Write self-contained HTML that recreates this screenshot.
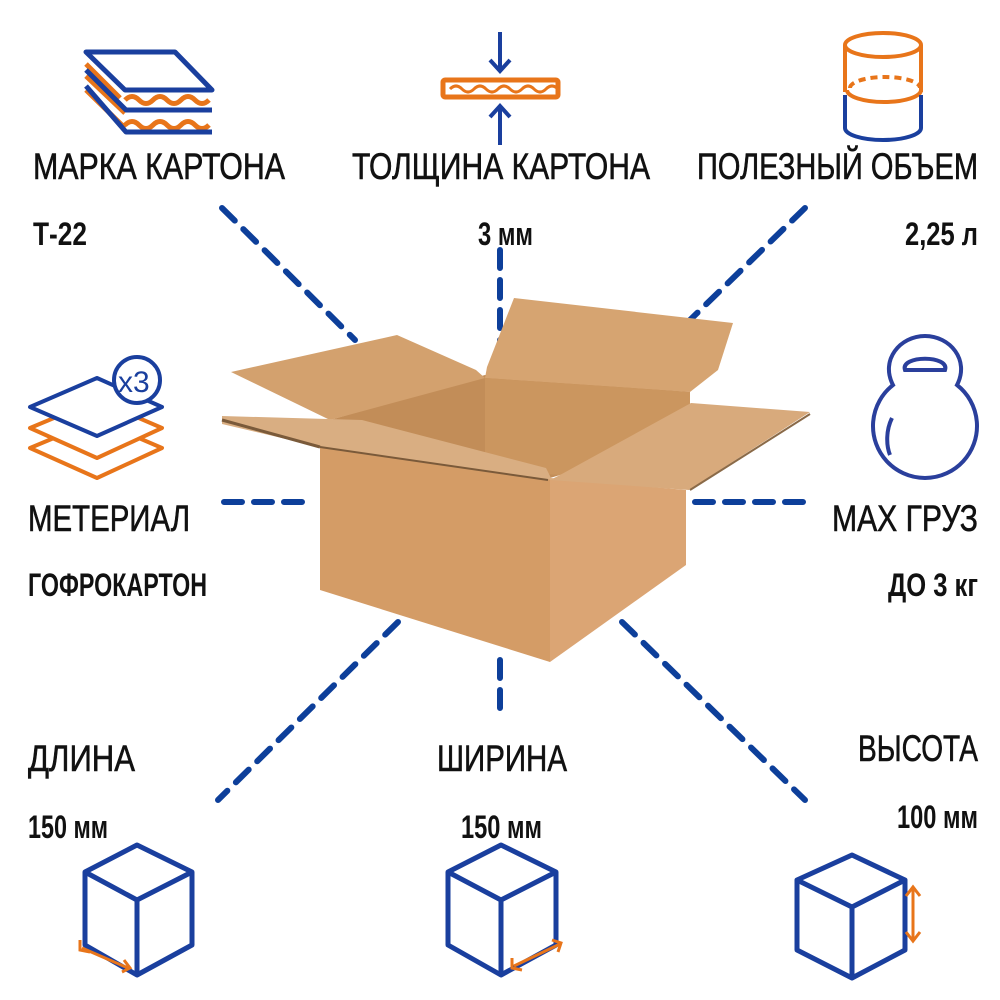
<!DOCTYPE html>
<html><head><meta charset="utf-8"><style>
html,body{margin:0;padding:0;background:#fff;}
svg{display:block}
.t{font-family:"Liberation Sans",sans-serif;font-size:37px;fill:#111;stroke:#111;stroke-width:0.6;}
.b{font-family:"Liberation Sans",sans-serif;font-size:32px;font-weight:bold;fill:#111;}
</style></head><body>
<svg width="1000" height="1000" viewBox="0 0 1000 1000" xmlns="http://www.w3.org/2000/svg">
<g stroke="#0d3f9a" stroke-width="6" stroke-dasharray="18 12" stroke-linecap="round" fill="none">
<line x1="222" y1="208" x2="355" y2="340"/>
<line x1="500" y1="250" x2="500" y2="345"/>
<line x1="805" y1="208" x2="690" y2="320"/>
<line x1="224" y1="502" x2="305" y2="502"/>
<line x1="695" y1="502" x2="805" y2="502"/>
<line x1="398" y1="622" x2="218" y2="800"/>
<line x1="500" y1="660" x2="500" y2="715"/>
<line x1="622" y1="622" x2="805" y2="800"/>
</g>
<g stroke="none">
<polygon points="330,420 485,375 690,392 560,475 550,478 400,440" fill="#c28d58"/>
<polygon points="487,367 514,298 733,323 718,370 690,392 485,378" fill="#d6a471"/>
<polygon points="485,378 690,392 690,430 560,475 485,470" fill="#cb965f"/>
<polygon points="231,372 397,335 476,370 485,378 330,420" fill="#d3a16e"/>
<polygon points="320,447 550,478 550,662 320,590" fill="#d49c66"/>
<polygon points="550,478 686,490 686,565 550,662" fill="#dba574"/>
<polygon points="560,475 691,403 810,412 689,490 550,480" fill="#d8aa7c"/>
<polygon points="222,416 362,420 546,468 552,480 320,447 222,424" fill="#d9ae82"/>
<line x1="222" y1="420" x2="320" y2="447" stroke="#7a5a3a" stroke-width="3"/>
<line x1="320" y1="447" x2="548" y2="480" stroke="#7a5a3a" stroke-width="2"/>
<line x1="690" y1="490" x2="810" y2="414" stroke="#8a6a48" stroke-width="2"/>
</g>
<g fill="none" stroke-width="5" stroke-linejoin="round">
<polygon points="86,52 175,52 212,90 125,90" stroke="#1a3f9e"/>
<path d="M86,64 L120,98 M86,76 L125,113 M86,90 L125,128" stroke="#e8751a"/>
<path d="M125,100 q7,-7 14,0 t14,0 t14,0 t14,0 t14,0 t14,0" stroke="#e8751a"/>
<path d="M125,125 q7,-7 14,0 t14,0 t14,0 t14,0 t14,0 t14,0" stroke="#e8751a"/>
<path d="M86,70 L126,110 L212,110 M86,86 L126,132 L212,132" stroke="#1a3f9e"/>
</g>
<g fill="none" stroke-width="4">
<rect x="443" y="80" width="115" height="17" rx="2" stroke="#e8751a" stroke-width="5"/>
<path d="M450,89 q6,-6 12,0 t12,0 t12,0 t12,0 t12,0 t12,0 t12,0 t12,0 t12,0" stroke="#e8751a" stroke-width="3"/>
<path d="M500,32 V70 M490,60 L500,71 L510,60" stroke="#1a3f9e"/>
<path d="M500,145 V107 M490,117 L500,106 L510,117" stroke="#1a3f9e"/>
</g>
<g fill="none" stroke-width="4">
<ellipse cx="883" cy="45" rx="38" ry="12" stroke="#e8751a"/>
<path d="M845,45 V92 M921,45 V92" stroke="#e8751a"/>
<path d="M847,90 a37,12 0 0 0 74,0" stroke="#e8751a"/>
<path d="M850,88 a35,11 0 0 1 70,0" stroke="#e8751a" stroke-dasharray="7 5"/>
<path d="M845,95 V128 a38,12 0 0 0 76,0 V95" stroke="#1a3f9e"/>
</g>
<g fill="none" stroke-width="4" stroke-linejoin="round">
<polygon points="30,448 97,420 162,448 97,478" stroke="#e8751a"/>
<polygon points="30,428 97,400 162,428 97,458" stroke="#e8751a" fill="#fff"/>
<polygon points="30,407 97,378 162,407 97,436" stroke="#1a3f9e" fill="#fff"/>
<circle cx="137" cy="380" r="23" stroke="#1a3f9e" fill="#fff"/>
</g>
<text x="118" y="392" font-family="Liberation Sans,sans-serif" font-size="30" fill="#1a3f9e">x3</text>
<g fill="none" stroke="#2a3f9c" stroke-width="4">
<path d="M893,385 C880,360 900,336 925,336 C950,336 970,360 957,385 A52,52 0 1 1 893,385 Z"/>
<path d="M905,370 C900,355 950,355 945,370 Z"/>
<path d="M892,418 C886,430 886,445 890,455"/>
</g>
<g fill="none" stroke="#1a3f9e" stroke-width="5" stroke-linejoin="round">
<path d="M137,845 L192,872 L192,945 L137,975 L85,945 L85,872 Z M85,872 L137,900 L192,872 M137,900 V975"/>
<path d="M501,845 L556,872 L556,945 L501,975 L448,945 L448,872 Z M448,872 L501,900 L556,872 M501,900 V975"/>
<path d="M852,855 L905,880 L905,950 L852,978 L797,950 L797,880 Z M797,880 L852,907 L905,880 M852,907 V978"/>
</g>
<g fill="none" stroke="#e8751a" stroke-width="3">
<path d="M82,948 L128,968 M80,940 L80,950 L90,952 M122,972 L130,968 L124,960"/>
<path d="M514,966 L560,944 M512,958 L512,968 L522,970 M552,940 L561,943 L558,952"/>
<path d="M913,888 V940 M906,896 L913,887 L920,896 M906,932 L913,941 L920,932"/>
</g>
<text class="t" x="33" y="179" textLength="252" lengthAdjust="spacingAndGlyphs">МАРКА КАРТОНА</text>
<text class="t" x="352" y="179" textLength="298" lengthAdjust="spacingAndGlyphs">ТОЛЩИНА КАРТОНА</text>
<text class="t" x="697" y="179" textLength="281" lengthAdjust="spacingAndGlyphs">ПОЛЕЗНЫЙ ОБЪЕМ</text>
<text class="b" x="33" y="245" textLength="54" lengthAdjust="spacingAndGlyphs">Т-22</text>
<text class="b" x="478" y="245" textLength="55" lengthAdjust="spacingAndGlyphs">3 мм</text>
<text class="b" x="905" y="245" textLength="73" lengthAdjust="spacingAndGlyphs">2,25 л</text>
<text class="t" x="28" y="531" textLength="162" lengthAdjust="spacingAndGlyphs">МЕТЕРИАЛ</text>
<text class="b" x="28" y="596" textLength="179" lengthAdjust="spacingAndGlyphs">ГОФРОКАРТОН</text>
<text class="t" x="832" y="531" textLength="146" lengthAdjust="spacingAndGlyphs">МАХ ГРУЗ</text>
<text class="b" x="888" y="596" textLength="90" lengthAdjust="spacingAndGlyphs">ДО 3 кг</text>
<text class="t" x="28" y="771" textLength="107" lengthAdjust="spacingAndGlyphs">ДЛИНА</text>
<text class="b" x="28" y="838" textLength="80" lengthAdjust="spacingAndGlyphs">150 мм</text>
<text class="t" x="437" y="771" textLength="130" lengthAdjust="spacingAndGlyphs">ШИРИНА</text>
<text class="b" x="461" y="838" textLength="81" lengthAdjust="spacingAndGlyphs">150 мм</text>
<text class="t" x="858" y="761" textLength="120" lengthAdjust="spacingAndGlyphs">ВЫСОТА</text>
<text class="b" x="897" y="828" textLength="81" lengthAdjust="spacingAndGlyphs">100 мм</text>
</svg>
</body></html>
